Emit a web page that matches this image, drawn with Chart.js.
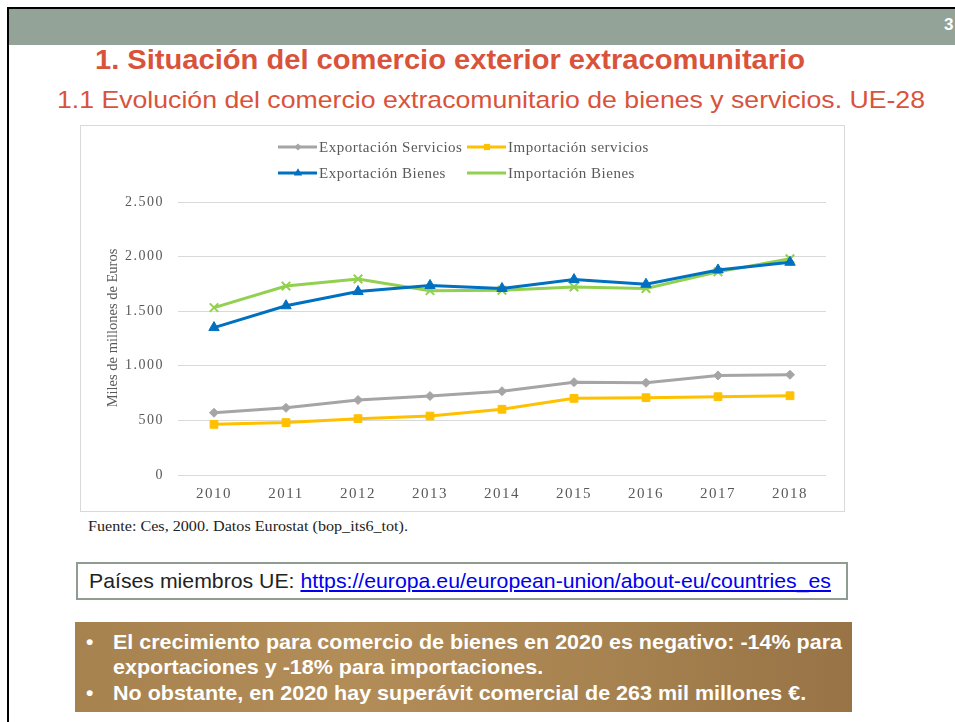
<!DOCTYPE html>
<html>
<head>
<meta charset="utf-8">
<script src="https://cdn.jsdelivr.net/npm/chart.js@4.4.1/dist/chart.umd.min.js"></script>
<style>
  html, body { margin: 0; padding: 0; background: #fff; }
  body { width: 955px; height: 722px; position: relative; overflow: hidden; font-family: 'Liberation Sans', Arial, sans-serif; }
  #frame { position: absolute; left: 7px; top: 7px; width: 960px; height: 730px; border-left: 2px solid #000; border-top: 2px solid #000; }
  #bar { position: absolute; left: 9px; top: 9px; width: 946px; height: 36px; background: #93a398; }
  #pnum { position: absolute; left: 944px; top: 15px; color: #fff; font-weight: bold; font-size: 17px; }
  #title { position: absolute; left: 95px; top: 45px; color: #d9533b; font-weight: bold; font-size: 27px; white-space: nowrap; transform-origin: left top; }
  #subtitle { position: absolute; left: 57px; top: 86px; color: #d9533b; font-size: 24px; white-space: nowrap; transform-origin: left top; }
  #box { position: absolute; left: 80px; top: 125px; width: 763px; height: 385px; border: 1px solid #d9d9d9; }
  #src { position: absolute; left: 88px; top: 518px; font-family: 'Liberation Serif', serif; font-size: 15px; color: #222; white-space: nowrap; transform-origin: left top; }
  #link { position: absolute; left: 76px; top: 562px; width: 768px; height: 34px; border: 2px solid #8e9c92; }
  #link span { position: absolute; left: 11px; top: 5px; font-size: 21px; color: #222; white-space: nowrap; transform-origin: left top; }
  #link a { color: #0000ee; text-decoration: underline; }
  #note { position: absolute; left: 75px; top: 622px; width: 777px; height: 90px; background: linear-gradient(90deg, #a6824f 0%, #b38d58 35%, #a68250 70%, #977346 100%); color: #fff; font-weight: bold; font-size: 21px; }
  #note div { position: absolute; white-space: nowrap; transform-origin: left top; }
</style>
</head>
<body>
<div id="frame"></div>
<div id="bar"></div>
<div id="pnum">3</div>
<div id="title">1. Situación del comercio exterior extracomunitario</div>
<div id="subtitle">1.1 Evolución del comercio extracomunitario de bienes y servicios. UE-28</div>
<div id="box"><canvas id="chart" width="763" height="385"></canvas></div>
<div id="src">Fuente: Ces, 2000. Datos Eurostat (bop_its6_tot).</div>
<div id="link"><span id="linktxt">Países miembros UE: <a href="https://europa.eu/european-union/about-eu/countries_es">https://europa.eu/european-union/about-eu/countries_es</a></span></div>
<div id="note">
  <div style="left:11px;top:8px">•</div>
  <div id="n1" style="left:38px;top:8px">El crecimiento para comercio de bienes en 2020 es negativo: -14% para</div>
  <div id="n2" style="left:38px;top:33px">exportaciones y -18% para importaciones.</div>
  <div style="left:11px;top:59px">•</div>
  <div id="n3" style="left:38px;top:59px">No obstante, en 2020 hay superávit comercial de 263 mil millones €.</div>
</div>
<script>
// data (miles de millones de euros)
var years = ['2010', '2011', '2012', '2013', '2014', '2015', '2016', '2017', '2018'];
var expServicios = [570, 615, 687, 723, 767, 850, 845, 912, 918];
var impServicios = [464, 480, 516, 540, 602, 702, 708, 717, 726];
var expBienes = [1350, 1550, 1680, 1736, 1708, 1790, 1747, 1878, 1948];
var impBienes = [1533, 1730, 1795, 1688, 1692, 1722, 1708, 1860, 1980];
var yTicks = [0, 500, 1000, 1500, 2000, 2500];

var serif = "'Liberation Serif', 'Times New Roman', serif";
var txtColor = '#595959';

function fmt(v) {
  return String(v).replace(/\B(?=(\d{3})+(?!\d))/g, '.');
}

// squeeze slide texts to the widths seen in the picture
function fitWidth(id, w) {
  var el = document.getElementById(id);
  var cur = el.getBoundingClientRect().width;
  var k = w / cur;
  el.style.transform = 'scaleX(' + k + ')';
  return k;
}
fitWidth('title', 710);
fitWidth('subtitle', 868);
fitWidth('src', 320);
fitWidth('linktxt', 742);
var k = fitWidth('n1', 729);
document.getElementById('n2').style.transform = 'scaleX(' + k + ')';
document.getElementById('n3').style.transform = 'scaleX(' + k + ')';

// legend laid out in two columns, like the original
var legendSlots = [
  { x: 197, y: 21 }, { x: 386, y: 21 },
  { x: 197, y: 47 }, { x: 386, y: 47 }
];

var legendPlugin = {
  id: 'twoColLegend',
  afterDraw: function(chart) {
    var ctx = chart.ctx;
    ctx.save();
    ctx.letterSpacing = '0.5px';
    chart.data.datasets.forEach(function(ds, i) {
      var s = legendSlots[i];
      ctx.strokeStyle = ds.borderColor;
      ctx.lineWidth = 3;
      ctx.beginPath();
      ctx.moveTo(s.x, s.y);
      ctx.lineTo(s.x + 39, s.y);
      ctx.stroke();
      ctx.fillStyle = ds.pointBackgroundColor;
      ctx.strokeStyle = ds.pointBorderColor;
      ctx.lineWidth = ds.pointBorderWidth;
      Chart.helpers.drawPoint(ctx, { pointStyle: ds.pointStyle, radius: ds.pointRadius * 0.8, rotation: 0 }, s.x + 20, s.y);
      ctx.fillStyle = txtColor;
      ctx.font = '15px ' + serif;
      ctx.textBaseline = 'middle';
      ctx.textAlign = 'left';
      ctx.fillText(ds.label, s.x + 41, s.y + 1);
    });
    ctx.letterSpacing = '0px';
    // y axis title, drawn without the tick letter spacing
    ctx.translate(32, 202);
    ctx.rotate(-Math.PI / 2);
    ctx.font = '14.5px ' + serif;
    ctx.textAlign = 'center';
    ctx.textBaseline = 'middle';
    ctx.fillStyle = txtColor;
    ctx.fillText('Miles de millones de Euros', 0, 0);
    ctx.restore();
  }
};

var spacingPlugin = {
  id: 'letterSpacing',
  beforeDraw: function(chart) { chart.ctx.letterSpacing = '1.5px'; },
  beforeDatasetsDraw: function(chart) { chart.ctx.letterSpacing = '0px'; }
};

function series(label, data, color, style, radius, bw) {
  return {
    label: label,
    data: data,
    borderColor: color,
    backgroundColor: color,
    borderWidth: 3,
    pointStyle: style,
    pointRadius: radius,
    pointHoverRadius: radius,
    pointBackgroundColor: color,
    pointBorderColor: color,
    pointBorderWidth: bw,
    tension: 0
  };
}

var chart = new Chart(document.getElementById('chart').getContext('2d'), {
  type: 'line',
  data: {
    labels: years,
    datasets: [
      series('Exportación Servicios', expServicios, '#a5a5a5', 'rectRot', 4.5, 1),
      series('Importación servicios', impServicios, '#ffc000', 'rect', 5.5, 1),
      series('Exportación Bienes', expBienes, '#0070c0', 'triangle', 6, 1),
      series('Importación Bienes', impBienes, '#92d050', 'crossRot', 6, 2)
    ]
  },
  options: {
    responsive: false,
    animation: false,
    devicePixelRatio: 1,
    layout: { padding: { top: 76, right: 18, bottom: 0, left: 22 } },
    plugins: {
      legend: { display: false },
      tooltip: { enabled: false }
    },
    scales: {
      x: {
        offset: true,
        grid: { display: false },
        border: { display: false },
        ticks: { color: txtColor, font: { family: serif, size: 15 }, padding: 2 },
        afterFit: function(s) { s.height = 36; }
      },
      y: {
        min: 0,
        max: 2500,
        afterBuildTicks: function(s) { s.ticks = yTicks.map(function(v) { return { value: v }; }); },
        grid: { color: '#d9d9d9', lineWidth: 1, drawTicks: false },
        border: { display: false },
        ticks: {
          color: txtColor,
          font: { family: serif, size: 14 },
          padding: 14,
          callback: function(v) { return fmt(v); }
        },
        afterFit: function(s) { s.width = 75; }
      }
    }
  },
  plugins: [legendPlugin, spacingPlugin]
});
</script>
</body>
</html>
